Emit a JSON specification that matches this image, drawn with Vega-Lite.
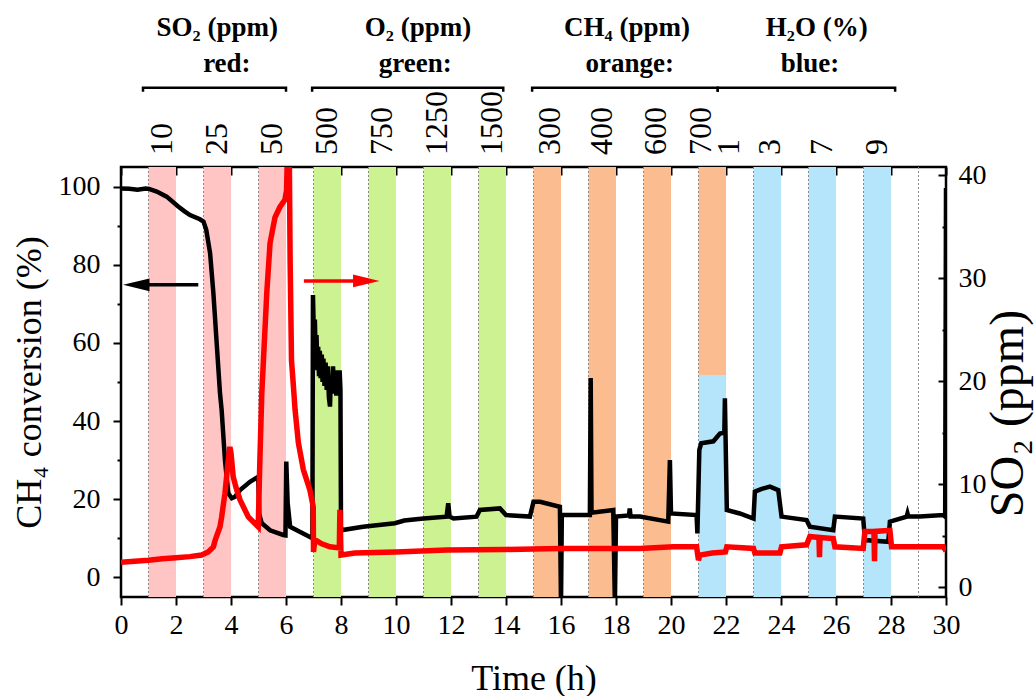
{
  "$schema": "https://vega.github.io/schema/vega-lite/v6.json",
  "width": 825,
  "height": 430,
  "autosize": {"type": "none"},
  "padding": {"left": 121, "top": 167, "right": 90, "bottom": 99},
  "background": "white",
  "config": {
    "view": {"stroke": "black", "strokeWidth": 2.5},
    "font": "Liberation Serif",
    "axis": {
      "domain": false, "grid": false,
      "labelFont": "Liberation Serif", "titleFont": "Liberation Serif",
      "labelColor": "black", "titleColor": "black", "tickColor": "black",
      "tickWidth": 2, "labelFontSize": 28, "titleFontSize": 36, "titleFontWeight": "normal",
      "labelFlush": false, "labelOverlap": false, "labelBound": false
    }
  },
  "datasets": {
    "bands": [
      {"t0": 1, "t1": 2, "v0": -6, "v1": 106, "g": "SO2"},
      {"t0": 3, "t1": 4, "v0": -6, "v1": 106, "g": "SO2"},
      {"t0": 5, "t1": 6, "v0": -6, "v1": 106, "g": "SO2"},
      {"t0": 7, "t1": 8, "v0": -6, "v1": 106, "g": "O2"},
      {"t0": 9, "t1": 10, "v0": -6, "v1": 106, "g": "O2"},
      {"t0": 11, "t1": 12, "v0": -6, "v1": 106, "g": "O2"},
      {"t0": 13, "t1": 14, "v0": -6, "v1": 106, "g": "O2"},
      {"t0": 15, "t1": 16, "v0": -6, "v1": 106, "g": "CH4"},
      {"t0": 17, "t1": 18, "v0": -6, "v1": 106, "g": "CH4"},
      {"t0": 19, "t1": 20, "v0": -6, "v1": 106, "g": "CH4"},
      {"t0": 21, "t1": 22, "v0": 51.8, "v1": 106, "g": "CH4"},
      {"t0": 21, "t1": 22, "v0": -6, "v1": 51.8, "g": "H2O"},
      {"t0": 23, "t1": 24, "v0": -6, "v1": 106, "g": "H2O"},
      {"t0": 25, "t1": 26, "v0": -6, "v1": 106, "g": "H2O"},
      {"t0": 27, "t1": 28, "v0": -6, "v1": 106, "g": "H2O"}
    ],
    "odd": [
      {"t": 1}, {"t": 3}, {"t": 5}, {"t": 7}, {"t": 9}, {"t": 11}, {"t": 13}, {"t": 15},
      {"t": 17}, {"t": 19}, {"t": 21}, {"t": 23}, {"t": 25}, {"t": 27}, {"t": 29}
    ],
    "black": [
      {"t": 0, "v": 99.6}, {"t": 0.3, "v": 99.5}, {"t": 0.6, "v": 99.3}, {"t": 0.9, "v": 99.6},
      {"t": 1.02, "v": 99.5}, {"t": 1.3, "v": 98.8}, {"t": 1.66, "v": 97.5}, {"t": 2.08, "v": 95.0},
      {"t": 2.3, "v": 93.8}, {"t": 2.51, "v": 92.8}, {"t": 2.87, "v": 91.7}, {"t": 3.0, "v": 91.1},
      {"t": 3.1, "v": 89.0}, {"t": 3.24, "v": 83.0}, {"t": 3.36, "v": 72.7}, {"t": 3.48, "v": 59.9},
      {"t": 3.6, "v": 47.1}, {"t": 3.66, "v": 42.8}, {"t": 3.78, "v": 30.0}, {"t": 3.9, "v": 21.5},
      {"t": 4.03, "v": 20.2}, {"t": 4.15, "v": 20.6}, {"t": 4.33, "v": 22.3}, {"t": 4.69, "v": 24.4},
      {"t": 4.99, "v": 25.7}, {"t": 5.03, "v": 16.0}, {"t": 5.12, "v": 13.8}, {"t": 5.42, "v": 12.0},
      {"t": 5.9, "v": 10.8}, {"t": 5.98, "v": 10.7}, {"t": 6.01, "v": 29.6}, {"t": 6.06, "v": 19.0},
      {"t": 6.15, "v": 12.9}, {"t": 6.5, "v": 11.6}, {"t": 6.87, "v": 10.3}, {"t": 6.96, "v": 10.0},
      {"t": 6.98, "v": 72.3}, {"t": 7.02, "v": 60.0}, {"t": 7.05, "v": 66.0}, {"t": 7.08, "v": 56.0},
      {"t": 7.11, "v": 62.0}, {"t": 7.14, "v": 53.0}, {"t": 7.17, "v": 59.0}, {"t": 7.2, "v": 51.5},
      {"t": 7.23, "v": 58.0}, {"t": 7.26, "v": 51.0}, {"t": 7.3, "v": 57.0}, {"t": 7.33, "v": 50.0},
      {"t": 7.36, "v": 56.0}, {"t": 7.4, "v": 49.0}, {"t": 7.44, "v": 55.0}, {"t": 7.48, "v": 48.0},
      {"t": 7.52, "v": 54.0}, {"t": 7.56, "v": 46.0}, {"t": 7.6, "v": 43.7}, {"t": 7.63, "v": 51.0},
      {"t": 7.67, "v": 47.0}, {"t": 7.71, "v": 54.0}, {"t": 7.75, "v": 47.0}, {"t": 7.79, "v": 53.0},
      {"t": 7.83, "v": 46.5}, {"t": 7.87, "v": 52.0}, {"t": 7.91, "v": 47.0}, {"t": 7.95, "v": 53.0},
      {"t": 7.98, "v": 48.0}, {"t": 8.0, "v": 12.0}, {"t": 8.8, "v": 12.9}, {"t": 9.96, "v": 13.8},
      {"t": 10.3, "v": 14.5}, {"t": 11.0, "v": 15.0}, {"t": 11.84, "v": 15.5}, {"t": 11.9, "v": 18.9},
      {"t": 11.95, "v": 15.5}, {"t": 12.09, "v": 15.0}, {"t": 12.93, "v": 15.5}, {"t": 13.05, "v": 17.2},
      {"t": 13.78, "v": 17.6}, {"t": 14.0, "v": 15.9}, {"t": 14.87, "v": 15.5}, {"t": 15.0, "v": 19.3},
      {"t": 15.24, "v": 19.3}, {"t": 15.96, "v": 18.0}, {"t": 16.0, "v": -7}, {"t": 16.03, "v": 15.9},
      {"t": 16.45, "v": 15.9}, {"t": 17.05, "v": 15.9}, {"t": 17.08, "v": 51.0}, {"t": 17.11, "v": 16.5},
      {"t": 17.9, "v": 17.2}, {"t": 17.96, "v": -7}, {"t": 18.0, "v": 15.5}, {"t": 18.47, "v": 15.8},
      {"t": 18.5, "v": 17.6}, {"t": 18.53, "v": 15.5}, {"t": 18.87, "v": 15.5}, {"t": 19.9, "v": 14.2},
      {"t": 19.96, "v": 30.0}, {"t": 20.0, "v": 16.3}, {"t": 20.93, "v": 15.9}, {"t": 20.96, "v": 11.2},
      {"t": 21.03, "v": 32.6}, {"t": 21.1, "v": 34.3}, {"t": 21.54, "v": 34.8}, {"t": 21.78, "v": 36.8},
      {"t": 21.94, "v": 37.0}, {"t": 21.96, "v": 45.8}, {"t": 22.03, "v": 17.2}, {"t": 22.5, "v": 16.3},
      {"t": 23.0, "v": 15.0}, {"t": 23.05, "v": 21.9}, {"t": 23.3, "v": 22.6}, {"t": 23.6, "v": 23.2},
      {"t": 23.9, "v": 22.3}, {"t": 24.02, "v": 15.5}, {"t": 24.93, "v": 14.6}, {"t": 25.05, "v": 12.9},
      {"t": 25.9, "v": 12.0}, {"t": 25.96, "v": 15.5}, {"t": 26.99, "v": 15.0}, {"t": 27.05, "v": 9.5},
      {"t": 27.9, "v": 9.05}, {"t": 27.96, "v": 14.2}, {"t": 28.57, "v": 15.5}, {"t": 28.6, "v": 16.3},
      {"t": 28.63, "v": 15.5}, {"t": 29.05, "v": 15.5}, {"t": 29.9, "v": 15.9}, {"t": 29.97, "v": 15.5},
      {"t": 30.0, "v": 99.7}
    ],
    "red": [
      {"t": 0, "s": 2.4}, {"t": 0.5, "s": 2.5}, {"t": 1.0, "s": 2.6}, {"t": 1.5, "s": 2.75},
      {"t": 2.0, "s": 2.85}, {"t": 2.5, "s": 2.95}, {"t": 2.93, "s": 3.1}, {"t": 3.17, "s": 3.4},
      {"t": 3.36, "s": 3.9}, {"t": 3.42, "s": 4.5}, {"t": 3.6, "s": 5.85}, {"t": 3.66, "s": 6.8},
      {"t": 3.78, "s": 9.1}, {"t": 3.9, "s": 12.3}, {"t": 3.96, "s": 13.6}, {"t": 4.0, "s": 13.0},
      {"t": 4.08, "s": 10.7}, {"t": 4.2, "s": 9.5}, {"t": 4.33, "s": 8.45}, {"t": 4.63, "s": 6.8},
      {"t": 4.99, "s": 5.85}, {"t": 5.05, "s": 12.3}, {"t": 5.12, "s": 18.8}, {"t": 5.18, "s": 22.0},
      {"t": 5.3, "s": 28.5}, {"t": 5.42, "s": 33.4}, {"t": 5.6, "s": 35.9}, {"t": 5.78, "s": 36.9},
      {"t": 5.96, "s": 37.6}, {"t": 6.02, "s": 38.5}, {"t": 6.05, "s": 42.0}, {"t": 6.12, "s": 42.0},
      {"t": 6.15, "s": 31.7}, {"t": 6.2, "s": 22.0}, {"t": 6.27, "s": 19.5}, {"t": 6.33, "s": 17.2},
      {"t": 6.45, "s": 14.0}, {"t": 6.63, "s": 11.4}, {"t": 6.87, "s": 9.4}, {"t": 6.99, "s": 7.8},
      {"t": 7.0, "s": 3.4}, {"t": 7.05, "s": 4.6}, {"t": 7.3, "s": 4.2}, {"t": 7.6, "s": 3.9},
      {"t": 7.94, "s": 3.8}, {"t": 7.96, "s": 7.5}, {"t": 8.0, "s": 3.1}, {"t": 8.5, "s": 3.3},
      {"t": 10.0, "s": 3.4}, {"t": 11.84, "s": 3.6}, {"t": 14.0, "s": 3.65}, {"t": 15.96, "s": 3.75},
      {"t": 17.05, "s": 3.75}, {"t": 18.87, "s": 3.75}, {"t": 20.08, "s": 3.9}, {"t": 20.93, "s": 3.9},
      {"t": 21.0, "s": 2.6}, {"t": 21.05, "s": 3.1}, {"t": 21.5, "s": 3.3}, {"t": 21.98, "s": 3.4},
      {"t": 22.03, "s": 3.9}, {"t": 23.0, "s": 3.75}, {"t": 23.05, "s": 3.3}, {"t": 23.96, "s": 3.3},
      {"t": 24.02, "s": 3.9}, {"t": 24.93, "s": 4.1}, {"t": 25.05, "s": 4.9}, {"t": 25.38, "s": 4.8},
      {"t": 25.4, "s": 2.9}, {"t": 25.42, "s": 4.8}, {"t": 25.9, "s": 4.7}, {"t": 25.96, "s": 3.9},
      {"t": 26.99, "s": 3.75}, {"t": 27.05, "s": 5.4}, {"t": 27.38, "s": 5.4}, {"t": 27.4, "s": 2.5},
      {"t": 27.42, "s": 5.4}, {"t": 27.96, "s": 5.5}, {"t": 28.02, "s": 3.9}, {"t": 29.9, "s": 3.9},
      {"t": 30.0, "s": 3.5}
    ],
    "tops": [
      {"t": 1.5, "label": "10"}, {"t": 3.5, "label": "25"}, {"t": 5.5, "label": "50"},
      {"t": 7.5, "label": "500"}, {"t": 9.5, "label": "750"}, {"t": 11.5, "label": "1250"},
      {"t": 13.5, "label": "1500"}, {"t": 15.6, "label": "300"}, {"t": 17.5, "label": "400"},
      {"t": 19.45, "label": "600"}, {"t": 21.1, "label": "700"}, {"t": 22.1, "label": "1"},
      {"t": 23.6, "label": "3"}, {"t": 25.5, "label": "7"}, {"t": 27.5, "label": "9"}
    ],
    "headers": [
      {"t": 3.5, "v": 140.8, "label": "SO₂ (ppm)"},
      {"t": 3.85, "v": 131.6, "label": "red:"},
      {"t": 10.8, "v": 140.8, "label": "O₂ (ppm)"},
      {"t": 10.7, "v": 131.6, "label": "green:"},
      {"t": 18.4, "v": 140.8, "label": "CH₄ (ppm)"},
      {"t": 18.5, "v": 131.6, "label": "orange:"},
      {"t": 25.3, "v": 140.8, "label": "H₂O (%)"},
      {"t": 25.05, "v": 131.6, "label": "blue:"}
    ],
    "brackets": [
      {"g": "a", "i": 0, "t": 0.8, "v": 124.4}, {"g": "a", "i": 1, "t": 0.8, "v": 125.4},
      {"g": "a", "i": 2, "t": 6.0, "v": 125.4}, {"g": "a", "i": 3, "t": 6.0, "v": 124.4},
      {"g": "b", "i": 0, "t": 6.95, "v": 124.4}, {"g": "b", "i": 1, "t": 6.95, "v": 125.4},
      {"g": "b", "i": 2, "t": 13.9, "v": 125.4}, {"g": "b", "i": 3, "t": 13.9, "v": 124.4},
      {"g": "c", "i": 0, "t": 14.95, "v": 124.4}, {"g": "c", "i": 1, "t": 14.95, "v": 125.4},
      {"g": "c", "i": 2, "t": 21.7, "v": 125.4}, {"g": "c", "i": 3, "t": 21.7, "v": 124.4},
      {"g": "d", "i": 0, "t": 21.7, "v": 124.4}, {"g": "d", "i": 1, "t": 21.7, "v": 125.4},
      {"g": "d", "i": 2, "t": 28.15, "v": 125.4}, {"g": "d", "i": 3, "t": 28.15, "v": 124.4}
    ],
    "shaftK": [{"t0": 1.0, "t1": 2.81, "v": 74.9}],
    "shaftR": [{"t0": 6.65, "t1": 8.5, "v": 75.9}],
    "headK": [{"t": 0.556, "v": 74.9}],
    "headR": [{"t": 8.92, "v": 75.9}]
  },
  "layer": [
    {
      "layer": [
        {
          "data": {"name": "bands"},
          "mark": {"type": "rect", "clip": true},
          "encoding": {
            "x": {"field": "t0", "type": "quantitative", "scale": {"domain": [0, 30], "nice": false, "zero": false},
              "axis": {"orient": "bottom", "values": [0, 2, 4, 6, 8, 10, 12, 14, 16, 18, 20, 22, 24, 26, 28, 30],
                "tickSize": 8, "labelPadding": 6, "title": "Time (h)", "titlePadding": 22}},
            "x2": {"field": "t1"},
            "y": {"field": "v0", "type": "quantitative", "scale": {"domain": [-5.1, 105.1], "nice": false, "zero": false},
              "axis": {"orient": "left", "values": [0, 20, 40, 60, 80, 100], "tickSize": 8, "labelPadding": 13,
                "title": "CH₄ conversion (%)", "titlePadding": 10}},
            "y2": {"field": "v1"},
            "color": {"field": "g", "type": "nominal", "legend": null,
              "scale": {"domain": ["SO2", "O2", "CH4", "H2O"], "range": ["#FFC5C5", "#CDF291", "#FBBD90", "#B5E5FA"]}}
          }
        },
        {
          "data": {"name": "odd"},
          "mark": {"type": "rule", "color": "#8a8a8a", "strokeDash": [2, 2], "strokeWidth": 1},
          "encoding": {
            "x": {"field": "t", "type": "quantitative", "axis": null}
          }
        },
        {
          "data": {"name": "black"},
          "mark": {"type": "line", "color": "black", "strokeWidth": 4.5, "clip": true},
          "encoding": {
            "x": {"field": "t", "type": "quantitative",
              "axis": {"orient": "top", "values": [0, 2, 4, 6, 8, 10, 12, 14, 16, 18, 20, 22, 24, 26, 28, 30],
                "tickSize": -8, "labels": false, "title": null}},
            "y": {"field": "v", "type": "quantitative",
              "axis": {"orient": "left", "values": [10, 30, 50, 70, 90], "tickSize": 4, "labels": false, "title": null}}
          }
        },
        {
          "data": {"name": "shaftK"},
          "mark": {"type": "rule", "strokeWidth": 3.5, "color": "black"},
          "encoding": {
            "x": {"field": "t0", "type": "quantitative", "axis": null},
            "x2": {"field": "t1"},
            "y": {"field": "v", "type": "quantitative", "axis": null}
          }
        },
        {
          "data": {"name": "shaftR"},
          "mark": {"type": "rule", "strokeWidth": 3.5, "color": "#FF0000"},
          "encoding": {
            "x": {"field": "t0", "type": "quantitative", "axis": null},
            "x2": {"field": "t1"},
            "y": {"field": "v", "type": "quantitative", "axis": null}
          }
        },
        {
          "data": {"name": "headK"},
          "mark": {"type": "point", "filled": true, "opacity": 1, "size": 700, "color": "black", "shape": "M-1,0L1,-0.48L1,0.48Z"},
          "encoding": {
            "x": {"field": "t", "type": "quantitative", "axis": null},
            "y": {"field": "v", "type": "quantitative", "axis": null}
          }
        },
        {
          "data": {"name": "headR"},
          "mark": {"type": "point", "filled": true, "opacity": 1, "size": 700, "color": "#FF0000", "shape": "M1,0L-1,-0.48L-1,0.48Z"},
          "encoding": {
            "x": {"field": "t", "type": "quantitative", "axis": null},
            "y": {"field": "v", "type": "quantitative", "axis": null}
          }
        },
        {
          "data": {"name": "tops"},
          "mark": {"type": "text", "angle": 270, "align": "left", "baseline": "middle", "fontSize": 32, "font": "Liberation Serif", "color": "black"},
          "encoding": {
            "x": {"field": "t", "type": "quantitative", "axis": null},
            "y": {"datum": 108.2, "type": "quantitative", "axis": null},
            "text": {"field": "label"}
          }
        },
        {
          "data": {"name": "headers"},
          "mark": {"type": "text", "align": "center", "baseline": "middle", "fontSize": 27, "fontWeight": "bold", "font": "Liberation Serif", "color": "black"},
          "encoding": {
            "x": {"field": "t", "type": "quantitative", "axis": null},
            "y": {"field": "v", "type": "quantitative", "axis": null},
            "text": {"field": "label"}
          }
        },
        {
          "data": {"name": "brackets"},
          "mark": {"type": "line", "color": "black", "strokeWidth": 2.5},
          "encoding": {
            "x": {"field": "t", "type": "quantitative", "axis": null},
            "y": {"field": "v", "type": "quantitative", "axis": null},
            "detail": {"field": "g"},
            "order": {"field": "i"}
          }
        }
      ],
      "resolve": {"axis": {"x": "independent", "y": "independent"}}
    },
    {
      "layer": [
        {
          "data": {"name": "red"},
          "mark": {"type": "line", "color": "#FF0000", "strokeWidth": 5.5, "clip": true},
          "encoding": {
            "x": {"field": "t", "type": "quantitative", "axis": null},
            "y": {"field": "s", "type": "quantitative", "scale": {"domain": [-0.97, 40.78], "nice": false, "zero": false},
              "axis": {"orient": "right", "values": [0, 10, 20, 30, 40], "tickSize": -8, "labelPadding": 20,
                "title": "SO₂ (ppm)", "titleAngle": 270, "titleFontSize": 48, "titlePadding": 46, "titleY": 246}}
          }
        },
        {
          "data": {"name": "red"},
          "mark": {"type": "line", "strokeOpacity": 0},
          "encoding": {
            "x": {"field": "t", "type": "quantitative", "axis": null},
            "y": {"field": "s", "type": "quantitative",
              "axis": {"orient": "right", "values": [5, 15, 25, 35], "tickSize": -4, "labels": false, "title": null}}
          }
        }
      ],
      "resolve": {"axis": {"x": "independent", "y": "independent"}}
    }
  ],
  "resolve": {"scale": {"y": "independent"}, "axis": {"x": "independent", "y": "independent"}}
}
